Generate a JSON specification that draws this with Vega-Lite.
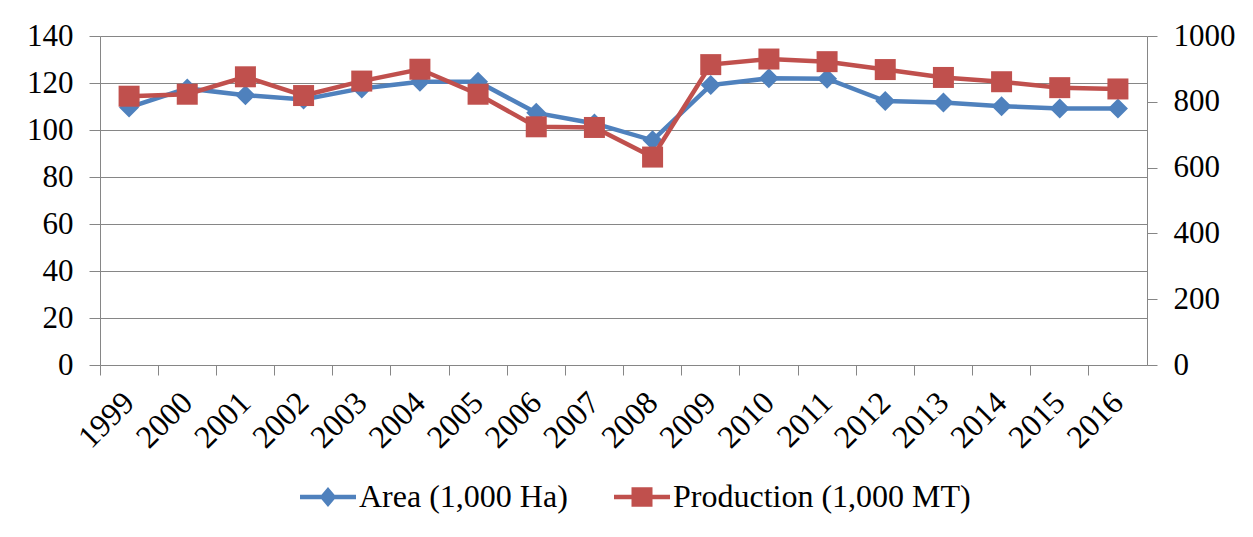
{
  "$schema": "https://vega.github.io/schema/vega-lite/v6.json",
  "width": 1047,
  "height": 329,
  "autosize": {"type": "none"},
  "padding": {"left": 100, "top": 36, "right": 106, "bottom": 172},
  "background": "white",
  "config": {
    "view": {"stroke": null},
    "font": "Liberation Serif",
    "axis": {"labelFont": "Liberation Serif", "labelColor": "black", "domainColor": "#868686", "tickColor": "#868686", "gridColor": "#868686", "titleFont": "Liberation Serif"}
  },
  "datasets": {
    "main": [
      {"year": "1999", "area": 109.6, "production": 817},
      {"year": "2000", "area": 117.7, "production": 823},
      {"year": "2001", "area": 114.8, "production": 876},
      {"year": "2002", "area": 113.0, "production": 819},
      {"year": "2003", "area": 117.7, "production": 863},
      {"year": "2004", "area": 120.5, "production": 899},
      {"year": "2005", "area": 120.5, "production": 823},
      {"year": "2006", "area": 107.3, "production": 724},
      {"year": "2007", "area": 102.8, "production": 722},
      {"year": "2008", "area": 95.6, "production": 632},
      {"year": "2009", "area": 119.1, "production": 913},
      {"year": "2010", "area": 122.0, "production": 930},
      {"year": "2011", "area": 121.8, "production": 922},
      {"year": "2012", "area": 112.3, "production": 898},
      {"year": "2013", "area": 111.7, "production": 874},
      {"year": "2014", "area": 110.1, "production": 861},
      {"year": "2015", "area": 109.2, "production": 843},
      {"year": "2016", "area": 109.2, "production": 839}
    ],
    "legend": [
      {"series": "Area (1,000 Ha)"},
      {"series": "Production (1,000 MT)"}
    ]
  },
  "layer": [
    {
      "data": {"name": "main"},
      "mark": {"type": "line", "color": "#4F81BD", "strokeWidth": 4.5},
      "encoding": {
        "x": {"field": "year", "type": "ordinal", "scale": {"type": "band", "paddingInner": 0, "paddingOuter": 0},
              "axis": {"title": null, "domain": true, "ticks": true, "tickSize": 10, "grid": false, "labels": true, "labelAngle": -45, "labelAlign": "right", "labelBaseline": "middle", "labelFontSize": 32, "labelPadding": 22, "bandPosition": 0}},
        "y": {"field": "area", "type": "quantitative", "scale": {"domain": [0, 140]},
              "axis": {"title": null, "values": [0, 20, 40, 60, 80, 100, 120, 140], "grid": true, "tickSize": 11, "labelPadding": 16, "labelFontSize": 31}}
      }
    },
    {
      "data": {"name": "main"},
      "mark": {"type": "point", "shape": "diamond", "filled": true, "opacity": 1, "size": 400, "color": "#4F81BD"},
      "encoding": {
        "x": {"field": "year", "type": "ordinal"},
        "y": {"field": "area", "type": "quantitative", "scale": {"domain": [0, 140]}, "axis": null}
      }
    },
    {
      "data": {"name": "main"},
      "mark": {"type": "line", "color": "#C0504D", "strokeWidth": 4.5},
      "encoding": {
        "x": {"field": "year", "type": "ordinal"},
        "y": {"field": "production", "type": "quantitative", "scale": {"domain": [0, 1000]},
              "axis": {"title": null, "orient": "right", "values": [0, 200, 400, 600, 800, 1000], "format": "d", "grid": false, "tickSize": 10, "labelPadding": 16, "labelFontSize": 31}}
      }
    },
    {
      "data": {"name": "main"},
      "mark": {"type": "point", "shape": "square", "filled": true, "opacity": 1, "size": 441, "color": "#C0504D"},
      "encoding": {
        "x": {"field": "year", "type": "ordinal"},
        "y": {"field": "production", "type": "quantitative", "scale": {"domain": [0, 1000]}, "axis": null}
      }
    },
    {
      "data": {"name": "legend"},
      "transform": [{"filter": "datum.series == 'none'"}],
      "mark": {"type": "point", "filled": true, "opacity": 1, "size": 3136},
      "encoding": {
        "color": {"field": "series", "type": "nominal",
                  "scale": {"domain": ["Area (1,000 Ha)", "Production (1,000 MT)"], "range": ["#4F81BD", "#C0504D"]},
                  "legend": {"orient": "none", "legendX": 200, "legendY": 433, "direction": "horizontal", "title": null, "labelFont": "Liberation Serif", "labelFontSize": 32, "labelColor": "black", "labelLimit": 500, "symbolSize": 3136, "symbolStrokeWidth": 0, "labelOffset": 3, "columnPadding": 46}},
        "shape": {"field": "series", "type": "nominal",
                  "scale": {"domain": ["Area (1,000 Ha)", "Production (1,000 MT)"], "range": ["M-1,-0.08H1V0.08H-1Z M0,-0.36L0.3,0L0,0.36L-0.3,0Z", "M-1,-0.08H1V0.08H-1Z M-0.375,-0.35H0.375V0.35H-0.375Z"]},
                  "legend": {"orient": "none", "legendX": 200, "legendY": 433, "direction": "horizontal", "title": null, "labelFont": "Liberation Serif", "labelFontSize": 32, "labelColor": "black", "labelLimit": 500, "symbolSize": 3136, "symbolStrokeWidth": 0, "labelOffset": 3, "columnPadding": 46}}
      }
    }
  ],
  "resolve": {"scale": {"y": "independent"}}
}
